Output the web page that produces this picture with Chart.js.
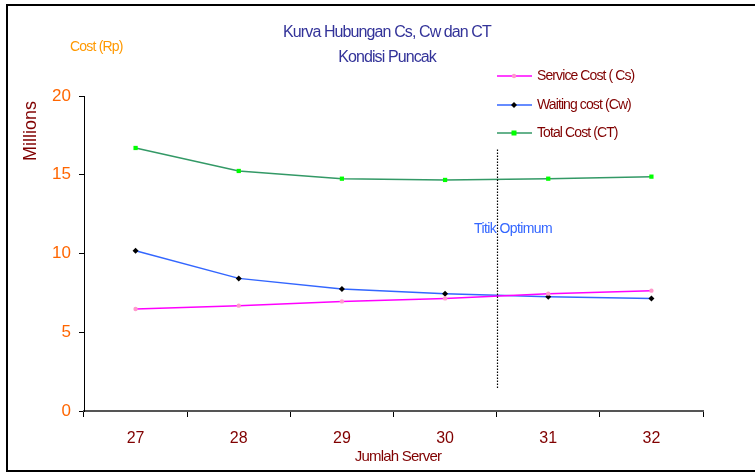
<!DOCTYPE html>
<html>
<head>
<meta charset="utf-8">
<script src="https://cdn.jsdelivr.net/npm/chart.js@4/dist/chart.umd.min.js"></script>
<style>
    html, body { margin: 0; padding: 0; background: #fff; }
    #wrap { position: relative; width: 755px; height: 474px; overflow: hidden; }
    #frame { position: absolute; left: 6px; top: 4px; width: 800px; height: 464px; border: 2px solid #000; }
    canvas { position: absolute; left: 0; top: 0; }
</style>
</head>
<body>
<div id="wrap">
    <div id="frame"></div>
    <canvas id="chart" width="755" height="474"></canvas>
</div>
<script>
// Number of servers on the x axis.
const servers = ['27', '28', '29', '30', '31', '32'];

// Costs in millions of Rupiah.
const serviceCost = [6.48, 6.69, 6.96, 7.15, 7.45, 7.64];
const waitingCost = [10.18, 8.42, 7.75, 7.45, 7.26, 7.15];
const totalCost = [16.70, 15.24, 14.75, 14.67, 14.75, 14.88];

const seriesLabels = ['Service Cost ( Cs)', 'Waiting cost (Cw)', 'Total Cost (CT)'];
const titleLines = ['Kurva Hubungan Cs, Cw dan CT', 'Kondisi Puncak'];

// Optimum marker sits between 30 and 31 servers.
const optimumBetween = [3, 4];
const optimumSpan = [16.6, 1.45];

const FONT = '"Liberation Sans", Arial, sans-serif';

// Draws text with a tighter letter spacing, like the narrow rendering of the original.
function tightText(ctx, text, x, y, spacing) {
    ctx.letterSpacing = spacing + 'px';
    ctx.fillText(text, x, y);
    ctx.letterSpacing = '0px';
}

const textPlugin = {
    id: 'texts',
    afterDraw(chart) {
        const ctx = chart.ctx;
        const x = chart.scales.x;
        const y = chart.scales.y;
        ctx.save();

        // Dotted optimum line
        const xo = Math.round((x.getPixelForValue(optimumBetween[0]) + x.getPixelForValue(optimumBetween[1])) / 2) + 0.5;
        ctx.strokeStyle = '#000';
        ctx.lineWidth = 1.2;
        ctx.setLineDash([1.5, 1.5]);
        ctx.beginPath();
        ctx.moveTo(xo, y.getPixelForValue(optimumSpan[0]));
        ctx.lineTo(xo, y.getPixelForValue(optimumSpan[1]));
        ctx.stroke();
        ctx.setLineDash([]);

        ctx.textBaseline = 'middle';

        // Title
        ctx.fillStyle = '#333399';
        ctx.font = '16px ' + FONT;
        ctx.textAlign = 'center';
        tightText(ctx, titleLines[0], 387, 33, -0.9);
        tightText(ctx, titleLines[1], 387, 58, -0.9);

        // Unit labels
        ctx.fillStyle = '#FF9900';
        ctx.font = '14px ' + FONT;
        ctx.textAlign = 'left';
        tightText(ctx, 'Cost (Rp)', 70, 47, -0.8);

        ctx.save();
        ctx.translate(31, 131);
        ctx.rotate(-Math.PI / 2);
        ctx.fillStyle = '#800000';
        ctx.font = '18px ' + FONT;
        ctx.textAlign = 'center';
        ctx.fillText('Millions', 0, 0);
        ctx.restore();

        // X axis title
        ctx.fillStyle = '#800000';
        ctx.font = '15px ' + FONT;
        ctx.textAlign = 'center';
        tightText(ctx, 'Jumlah Server', 398, 457, -0.8);

        // Optimum label
        ctx.fillStyle = '#3366FF';
        ctx.font = '14px ' + FONT;
        ctx.textAlign = 'left';
        tightText(ctx, 'Titik Optimum', 474, 229, -0.6);

        // Legend
        const rows = [76, 105, 133];
        chart.data.datasets.forEach((ds, i) => {
            const ly = rows[i];
            ctx.strokeStyle = ds.borderColor;
            ctx.lineWidth = 1.5;
            ctx.beginPath();
            ctx.moveTo(497, ly);
            ctx.lineTo(532, ly);
            ctx.stroke();
            ctx.fillStyle = ds.pointBackgroundColor;
            ctx.beginPath();
            if (ds.pointStyle === 'rect') {
                ctx.rect(511.5, ly - 2.5, 5, 5);
            } else if (ds.pointStyle === 'rectRot') {
                ctx.moveTo(514, ly - 3); ctx.lineTo(517, ly); ctx.lineTo(514, ly + 3); ctx.lineTo(511, ly);
            } else {
                ctx.arc(514, ly, 2.2, 0, Math.PI * 2);
            }
            ctx.fill();
            ctx.fillStyle = '#800000';
            ctx.font = '14px ' + FONT;
            tightText(ctx, ds.label, 537, ly, -0.9);
        });

        ctx.restore();
    },
};

new Chart(document.getElementById('chart'), {
    type: 'line',
    data: {
        labels: servers,
        datasets: [
            {
                label: seriesLabels[0],
                data: serviceCost,
                borderColor: '#FF00FF',
                borderWidth: 1.5,
                pointStyle: 'circle',
                pointRadius: 2.2,
                pointBackgroundColor: '#FF99CC',
                pointBorderWidth: 0,
                tension: 0,
            },
            {
                label: seriesLabels[1],
                data: waitingCost,
                borderColor: '#3366FF',
                borderWidth: 1.5,
                pointStyle: 'rectRot',
                pointRadius: 3,
                pointBackgroundColor: '#000000',
                pointBorderWidth: 0,
                tension: 0,
            },
            {
                label: seriesLabels[2],
                data: totalCost,
                borderColor: '#339966',
                borderWidth: 1.5,
                pointStyle: 'rect',
                pointRadius: 3,
                pointBackgroundColor: '#00FF00',
                pointBorderWidth: 0,
                tension: 0,
            },
        ],
    },
    options: {
        responsive: false,
        animation: false,
        layout: { padding: { left: 0, top: 96, right: 52, bottom: 0 } },
        plugins: {
            legend: { display: false },
            title: { display: false },
            tooltip: { enabled: false },
        },
        scales: {
            x: {
                offset: true,
                afterFit: (scale) => { scale.height = 63; },
                grid: {
                    offset: true,
                    drawOnChartArea: false,
                    tickLength: 6,
                    tickColor: '#000',
                },
                border: { color: '#555', width: 2 },
                ticks: {
                    color: '#800000',
                    padding: 12,
                    font: { family: FONT, size: 16 },
                },
            },
            y: {
                min: 0,
                max: 20,
                afterFit: (scale) => { scale.width = 84; },
                grid: {
                    drawOnChartArea: false,
                    tickLength: 5,
                    tickColor: '#000',
                },
                border: { color: '#000', width: 1 },
                ticks: {
                    stepSize: 5,
                    color: '#FF6600',
                    padding: 8,
                    font: { family: FONT, size: 17 },
                },
            },
        },
    },
    plugins: [textPlugin],
});
</script>
</body>
</html>
